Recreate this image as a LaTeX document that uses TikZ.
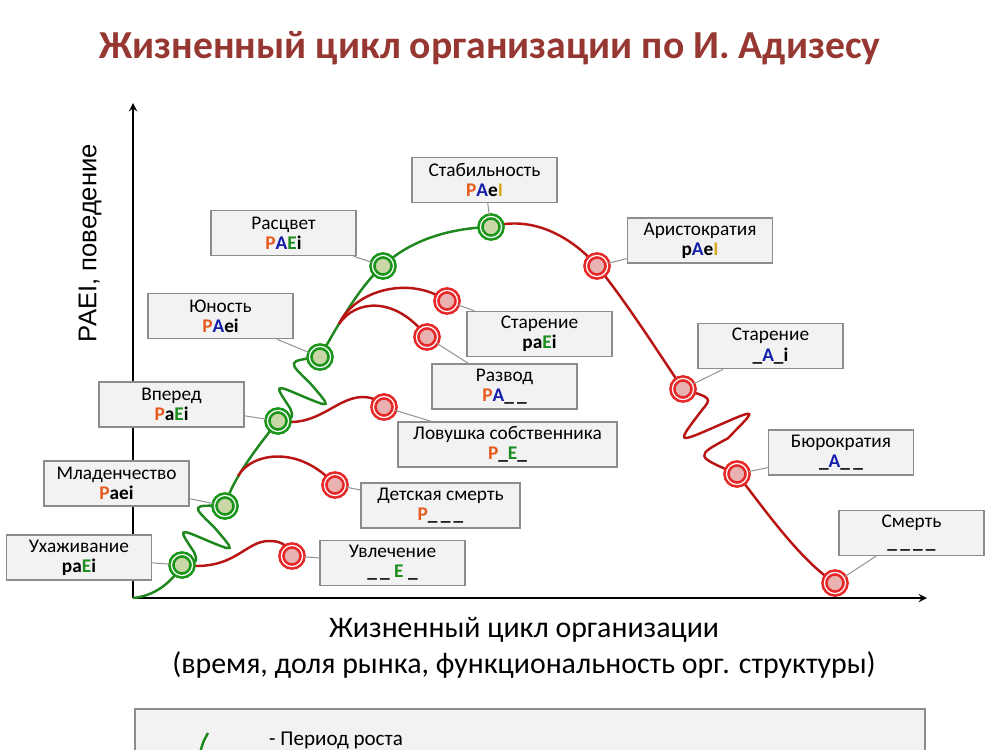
\documentclass[tikz,border=0pt]{standalone}
\usepackage{fontspec}
\setmainfont{Carlito}
\newfontfamily\axisfont{Liberation Sans}
\usepackage{tikz}

\definecolor{titlered}{RGB}{150,55,50}
\definecolor{grncurve}{RGB}{30,135,30}
\definecolor{grnring}{RGB}{25,150,25}
\definecolor{grnfill}{RGB}{200,215,165}
\definecolor{redcurve}{RGB}{185,20,20}
\definecolor{redring}{RGB}{230,40,40}
\definecolor{redfill}{RGB}{232,178,178}
\definecolor{boxfill}{RGB}{242,242,242}
\definecolor{boxline}{RGB}{140,140,140}
\definecolor{leadcol}{RGB}{150,150,150}
\definecolor{adPc}{RGB}{230,90,30}
\definecolor{adAc}{RGB}{20,30,170}
\definecolor{adEc}{RGB}{30,140,30}
\definecolor{adIc}{RGB}{215,170,30}

\newcommand{\adP}{\textcolor{adPc}{P}}
\newcommand{\adA}{\textcolor{adAc}{A}}
\newcommand{\adE}{\textcolor{adEc}{E}}
\newcommand{\adI}{\textcolor{adIc}{I}}

\tikzset{
  stagebox/.style={draw=boxline, fill=boxfill, line width=0.85pt, minimum width=2.9cm,
    minimum height=0.9cm, align=center, inner sep=1pt, font=\fontsize{11}{11.5}\selectfont},
  growdot/.style={circle, draw=grnring, line width=1.5pt, double=white, double distance=0.7pt,
    fill=grnfill, minimum size=12pt, inner sep=0pt},
  falldot/.style={growdot, draw=redring, fill=redfill},
  growline/.style={draw=grncurve, line width=1.4pt},
  fallline/.style={draw=redcurve, line width=1.4pt},
  leader/.style={draw=leadcol, line width=0.6pt},
  axisline/.style={draw=black, line width=1.1pt, -stealth},
  axislbl/.style={font=\fontsize{17}{19}\selectfont}
}

\begin{document}
\begin{tikzpicture}[x=0.02cm, y=-0.02cm]
    \useasboundingbox (0,0) rectangle (1000,750);
    % title
    \node[anchor=base, text=titlered, font=\bfseries\fontsize{22.6}{26}\selectfont] (title) at (490,59)
        {Жизненный цикл организации по И. Адизесу};
    % axes
    \coordinate (o) at (133,598);
    \coordinate (ytop) at (133,103);
    \coordinate (xend) at (927,598);
    \draw[axisline] (o) -- (ytop);
    \draw[axisline] (o) -- (xend);
    \node[axislbl] (xlab1) at (524,630) {Жизненный цикл организации};
    \node[axislbl] (xlab2) at (524,665) {(время, доля рынка, функциональность орг. структуры)};
    \node[rotate=90, font=\axisfont\fontsize{14.6}{16}\selectfont] (ylab) at (90,243) {PAEI, поведение};
    % stage points
    \coordinate (cs) at (182,565);
    \coordinate (inf) at (225,506);
    \coordinate (go) at (278,421);
    \coordinate (ado) at (320,357);
    \coordinate (pr) at (383,266);
    \coordinate (st) at (491,227);
    \coordinate (ar) at (597,266);
    \coordinate (eb) at (683,389);
    \coordinate (bu) at (737,474);
    \coordinate (de) at (835,583);
    \coordinate (af) at (292,556);
    \coordinate (im) at (335,485);
    \coordinate (ft) at (384,407);
    \coordinate (dv) at (427,337);
    \coordinate (pa) at (447,301);
    \coordinate (k1) at (238,476);
    \coordinate (k2) at (339,324);
    % growth curve
    \draw[growline] (o) .. controls (155,596) and (172,582) .. (cs);
    \draw[growline] (cs) .. controls (198,562) .. (194,552) .. controls (178,528) .. (206,540)
        .. controls (236,552.5) .. (214,527) .. controls (191,505) .. (inf);
    \draw[growline] (inf) .. controls (232,480) and (255,450) .. (go);
    \draw[growline] (go) .. controls (294,418) .. (290,408) .. controls (274,384) .. (302,396)
        .. controls (332,408.5) .. (310,383) .. controls (287,361) .. (ado);
    \draw[growline] (ado) .. controls (335,330) and (360,285) .. (pr);
    \draw[growline] (pr) .. controls (410,240) and (450,228) .. (st);
    % failure branches
    \draw[fallline] (cs) .. controls (235,572) and (245,540) .. (270,541) .. controls (282,541) and (288,546) .. (af);
    \draw[fallline] (k1) .. controls (252,452) and (300,445) .. (im);
    \draw[fallline] (go) .. controls (318,428) and (335,398) .. (362,397) .. controls (372,397) and (378,400) .. (ft);
    \draw[fallline] (k2) .. controls (355,290) and (410,275) .. (pa);
    \draw[fallline] (k2) .. controls (355,300) and (395,295) .. (dv);
    % decline curve
    \draw[fallline] (st) .. controls (530,215) and (570,235) .. (ar) .. controls (625,300) and (660,355) .. (eb);
    \draw[fallline] (eb) .. controls (712,398) .. (702,410) .. controls (676,444) .. (717,426)
        .. controls (758,408) .. (727.5,438.5) .. controls (695,456) .. (bu);
    \draw[fallline] (bu) .. controls (765,510) and (800,560) .. (de);
    % dots
    \foreach \s in {cs,inf,go,ado,pr,st}
        \node[growdot] (n-\s) at (\s) {};
    \foreach \s in {af,im,ft,dv,pa,ar,eb,bu,de}
        \node[falldot] (n-\s) at (\s) {};
    % stage boxes
    \node[stagebox] (b-cs) at (79,557.5) {Ухаживание\\ \textbf{pa\adE i}};
    \node[stagebox] (b-inf) at (116.5,483.5) {Младенчество\\ \textbf{\adP aei}};
    \node[stagebox] (b-go) at (171.5,404.5) {Вперед\\ \textbf{\adP a\adE i}};
    \node[stagebox] (b-ado) at (220.5,316) {Юность\\ \textbf{\adP\adA ei}};
    \node[stagebox] (b-pr) at (283.5,233) {Расцвет\\ \textbf{\adP\adA\adE i}};
    \node[stagebox] (b-st) at (484.5,180) {Стабильность\\ \textbf{\adP\adA e\adI}};
    \node[stagebox] (b-pa) at (539.5,334) {Старение\\ \textbf{pa\adE i}};
    \node[stagebox] (b-dv) at (504.5,386.5) {Развод\\ \textbf{\adP\adA\_\,\_}};
    \node[stagebox, minimum width=4.38cm] (b-ft) at (507.5,444.5) {Ловушка собственника\\ \textbf{\adP\_\adE\_}};
    \node[stagebox, minimum width=3.18cm] (b-im) at (440.5,505.5) {Детская смерть\\ \textbf{\adP\_\,\_\,\_}};
    \node[stagebox] (b-af) at (392.5,563) {Увлечение\\ \textbf{\_\,\_\ \adE\ \_}};
    \node[stagebox] (b-ar) at (700,240.5) {Аристократия\\ \textbf{p\adA e\adI}};
    \node[stagebox] (b-eb) at (770.5,346) {Старение\\ \textbf{\_\adA\_i}};
    \node[stagebox] (b-bu) at (841,452.5) {Бюрократия\\ \textbf{\_\adA\_\,\_}};
    \node[stagebox] (b-de) at (911.5,533) {Смерть\\ \textbf{\_\,\_\,\_\,\_}};
    % leaders
    \foreach \s in {cs,inf,go,ado,pr,st,af,im,ft,dv,pa,ar,eb,bu,de}
        \draw[leader] (n-\s) -- (b-\s);
    % legend
    \draw[draw=boxline, fill=boxfill, line width=0.85pt] (135,709) rectangle (925,800);
    \draw[growline] (200,753) .. controls (203,742) .. (208,733);
    \node[anchor=base west, font=\fontsize{12}{14}\selectfont] (legtxt) at (263,745) {- Период роста};
\end{tikzpicture}
\end{document}
